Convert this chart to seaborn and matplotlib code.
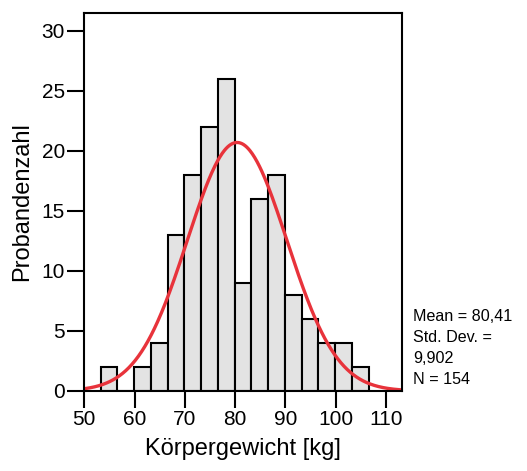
import numpy as np
import pandas as pd
import matplotlib
matplotlib.use("Agg")
import matplotlib.pyplot as plt
import seaborn as sns

# Data
bin_start = 53.25
bin_width = 3.335
counts = [2, 0, 2, 4, 13, 18, 22, 26, 9, 16, 18, 8, 6, 4, 4, 2]
mean_val = 80.41
std_val = 9.902
n_total = 154
x_ticks = [50, 60, 70, 80, 90, 100, 110]
y_ticks = [0, 5, 10, 15, 20, 25, 30]
stats_text = "Mean = 80,41\nStd. Dev. =\n9,902\nN = 154"

sns.set_theme(style="white")
plt.rcParams['font.family'] = ['Liberation Sans', 'DejaVu Sans']

edges = [bin_start + bin_width * i for i in range(len(counts) + 1)]
centers = [(edges[i] + edges[i + 1]) / 2 for i in range(len(counts))]
df = pd.DataFrame({"x": centers, "w": counts})

fig = plt.figure(figsize=(5.27, 4.71), dpi=100)
ax = fig.add_axes([0.16, 0.170, 0.603, 0.803])

sns.histplot(data=df, x="x", weights="w", bins=edges, ax=ax,
             color="#e3e3e3", edgecolor="black", linewidth=1.5, alpha=1)

xmin, xmax = 50, 113.25
xs = np.linspace(xmin, xmax, 400)
ys = n_total * bin_width * np.exp(-0.5 * ((xs - mean_val) / std_val) ** 2) / (std_val * np.sqrt(2 * np.pi))
sns.lineplot(x=xs, y=ys, ax=ax, color="#e8333b", linewidth=2.4)

ax.set_xlim(xmin, xmax)
ax.set_ylim(0, 31.5)
ax.set_xticks(x_ticks)
ax.set_yticks(y_ticks)
ax.tick_params(axis="both", direction="out", length=12, width=1.5,
               labelsize=15, color="black", labelcolor="black", pad=2,
               bottom=True, left=True)
for s in ax.spines.values():
    s.set_visible(True)
    s.set_color("black")
    s.set_linewidth(1.5)

ax.set_xlabel("Körpergewicht [kg]", fontsize=17, color="black", labelpad=6)
ax.set_ylabel("Probandenzahl", fontsize=17, color="black", labelpad=6)

fig.text(0.784, 0.262, stats_text, fontsize=11.6, ha="left", va="center",
         linespacing=1.5, color="black")

fig.savefig("out.png", dpi=100)
